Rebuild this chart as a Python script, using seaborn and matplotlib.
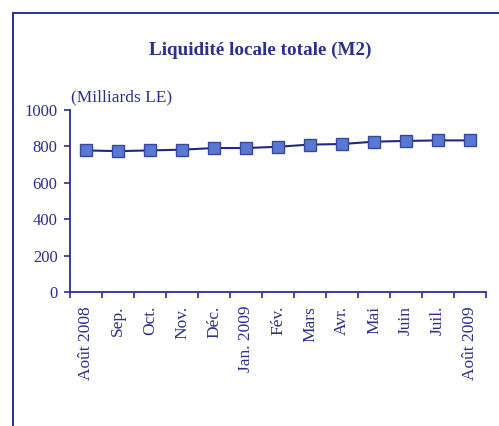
import pandas as pd
import numpy as np
import matplotlib
matplotlib.use('Agg')
import matplotlib.pyplot as plt
import seaborn as sns
from matplotlib.patches import Rectangle
from matplotlib.ticker import FixedLocator

months = ['Août 2008', 'Sep.', 'Oct.', 'Nov.', 'Déc.', 'Jan. 2009', 'Fév.',
          'Mars', 'Avr.', 'Mai', 'Juin', 'Juil.', 'Août 2009']
m2Values = [778, 774, 778, 782, 791, 791, 798, 810, 813, 826, 830, 833, 833]
yTicks = [0, 200, 400, 600, 800, 1000]

navy = '#2b2f8f'
lineColor = '#1f2a7a'
markerFace = '#5a78d2'
markerEdge = '#3548a0'

sns.set_style("white")
plt.rcParams['font.family'] = ['Liberation Serif', 'DejaVu Serif']

df = pd.DataFrame({'Mois': months, 'M2': m2Values})
df['pos'] = np.arange(len(months))

fig = plt.figure(figsize=(4.99, 4.26), dpi=100)
ax = fig.add_axes([70/499, 1 - 292/426, 416/499, 182/426])

sns.lineplot(data=df, x='pos', y='M2', ax=ax, color=lineColor, linewidth=1.5,
             marker='s', markersize=8, markerfacecolor=markerFace,
             markeredgecolor=markerEdge, markeredgewidth=1)

ax.set_xlim(-0.5, len(months) - 0.5)
ax.set_ylim(0, 1000)
ax.set_yticks(yTicks)
ax.set_yticklabels([str(t) for t in yTicks], fontsize=12, color=navy)
ax.set_xticks(df['pos'])
ax.set_xticklabels(months, rotation=90, fontsize=12.5, color=navy, va='top')
ax.xaxis.set_minor_locator(FixedLocator(np.arange(-0.5, len(months), 1.0)))
ax.tick_params(axis='x', which='major', length=0, pad=10)
ax.tick_params(axis='x', which='minor', length=4, width=1.2, color=navy, direction='out', bottom=True)
ax.tick_params(axis='y', length=4, width=1.2, color=navy, direction='out', left=True, pad=5)
ax.set_xlabel('')
ax.set_ylabel('')
for side in ['top', 'right']:
    ax.spines[side].set_visible(False)
for side in ['left', 'bottom']:
    ax.spines[side].set_color(navy)
    ax.spines[side].set_linewidth(1.3)

fig.text(260/499, 1 - 50/426, 'Liquidité locale totale (M2)', ha='center', va='center',
         fontsize=13.8, fontweight='bold', color=navy)
fig.text(71/499, 1 - 97/426, '(Milliards LE)', ha='left', va='center',
         fontsize=12.5, color=navy)

fig.patches.append(Rectangle((13/499, -0.1), 1.2, 1.1 - 13/426, transform=fig.transFigure,
                             fill=False, edgecolor='#2a2fa0', linewidth=1.4))

fig.savefig('out.png', dpi=100)
